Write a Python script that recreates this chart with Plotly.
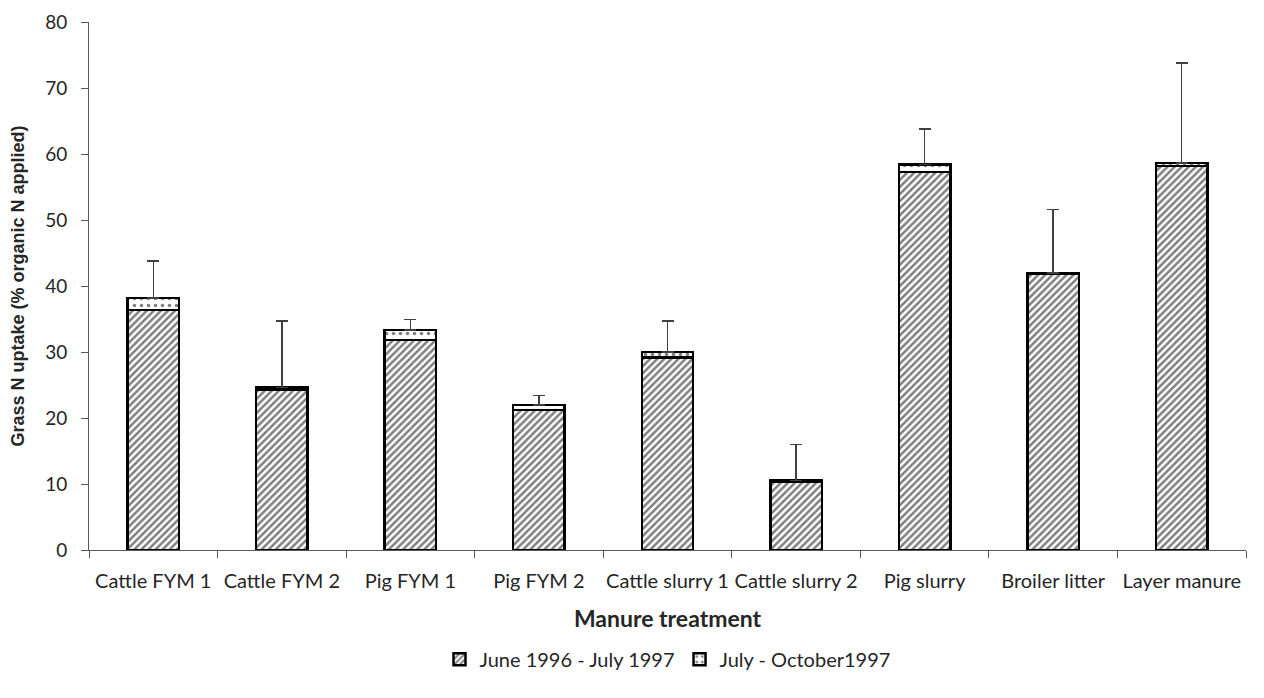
import plotly.graph_objects as go

categories = [
    "Cattle FYM 1", "Cattle FYM 2", "Pig FYM 1", "Pig FYM 2", "Cattle slurry 1",
    "Cattle slurry 2", "Pig slurry", "Broiler litter", "Layer manure",
]
# N uptake June 1996 - July 1997
first_period = [36.4, 24.3, 31.8, 21.2, 29.2, 10.4, 57.3, 41.8, 58.2]
# additional uptake July - October 1997
second_period = [1.8, 0.3, 1.5, 0.8, 0.8, 0.1, 1.1, 0.2, 0.4]
# top of the error bar (total + 1 SE)
error_top = [43.8, 34.7, 34.9, 23.4, 34.7, 16.0, 63.8, 51.6, 73.8]

totals = [a + b for a, b in zip(first_period, second_period)]
err_plus = [e - t for e, t in zip(error_top, totals)]

FONT = "Lato, 'Open Sans', sans-serif"
AXIS_COLOR = "#595959"

fig = go.Figure()
fig.add_trace(
    go.Bar(
        x=categories,
        y=first_period,
        name="June 1996 - July 1997",
        marker=dict(
            color="white",
            line=dict(color="black", width=2.5),
            pattern=dict(shape="/", fgcolor="black", bgcolor="white", size=5, solidity=0.5),
        ),
    )
)
fig.add_trace(
    go.Bar(
        x=categories,
        y=second_period,
        name="July - October1997",
        marker=dict(
            color="white",
            line=dict(color="black", width=2.5),
            pattern=dict(shape=".", fgcolor="black", bgcolor="white", size=7, solidity=0.2),
        ),
        error_y=dict(
            type="data",
            symmetric=False,
            array=err_plus,
            arrayminus=[0] * len(err_plus),
            color="#404040",
            thickness=1.5,
            width=6,
        ),
    )
)

# page body adds an 8px offset, margins are set against that
fig.update_layout(
    barmode="stack",
    bargap=0.6,
    width=1264,
    height=698,
    plot_bgcolor="white",
    paper_bgcolor="white",
    font=dict(family=FONT, size=20, color="#262626"),
    margin=dict(l=81, r=26, t=14, b=156),
    legend=dict(
        orientation="h",
        x=0.5,
        xanchor="center",
        y=-0.17,
        yanchor="top",
        font=dict(size=20),
        traceorder="normal",
        itemwidth=30,
    ),
)
fig.update_xaxes(
    title=dict(text="<b>Manure treatment</b>", font=dict(size=23), standoff=19),
    showline=True,
    linecolor=AXIS_COLOR,
    linewidth=1,
    ticks="outside",
    tickson="boundaries",
    ticklen=7,
    tickcolor=AXIS_COLOR,
    tickangle=0,
    ticklabelstandoff=13,
    showgrid=False,
    automargin=False,
)
fig.update_yaxes(
    title=dict(
        text="<b>Grass N uptake (% organic N applied)</b>",
        font=dict(size=18, family="'Liberation Sans', Arial, sans-serif"),
        standoff=21,
    ),
    range=[0, 80],
    dtick=10,
    tickfont=dict(size=19),
    showline=True,
    linecolor=AXIS_COLOR,
    linewidth=1,
    ticks="outside",
    ticklen=7,
    tickcolor=AXIS_COLOR,
    ticklabelstandoff=10,
    ticklabeloverflow="allow",
    showgrid=False,
    zeroline=False,
    automargin=False,
)

fig.write_html("out.html")
